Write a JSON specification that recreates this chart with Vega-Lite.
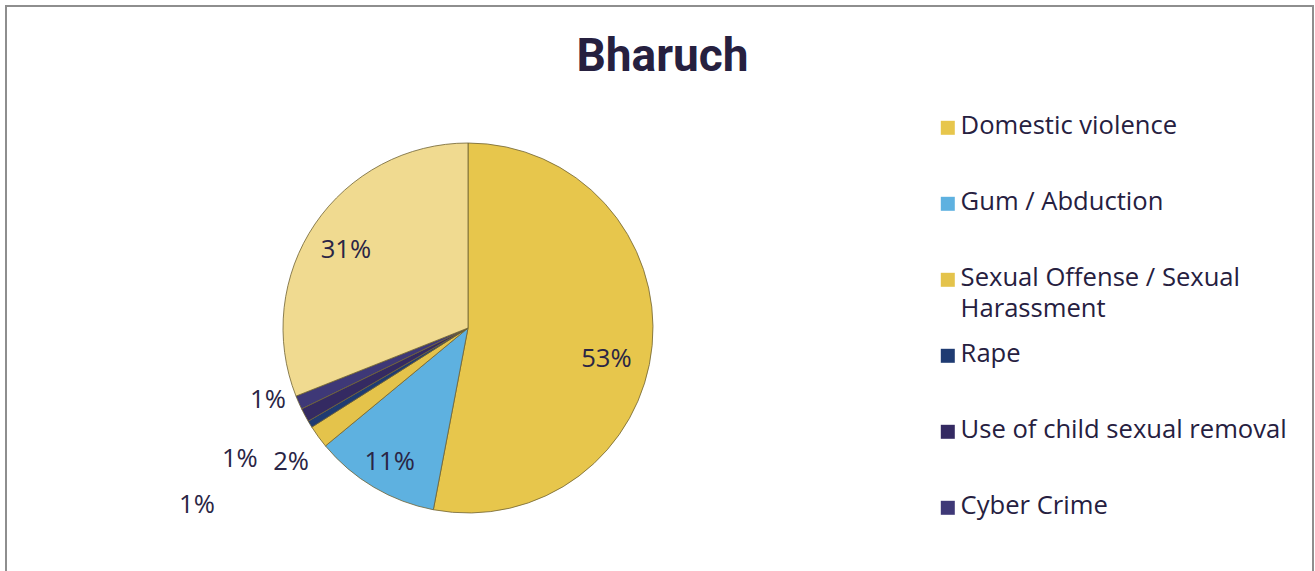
{
  "$schema": "https://vega.github.io/schema/vega-lite/v6.json",
  "autosize": "none",
  "padding": {"left": 6, "top": 6, "right": 2, "bottom": 0},
  "width": 1307,
  "height": 600,
  "background": "white",
  "config": {"view": {"stroke": null}},
  "title": {"text": "Bharuch", "fontSize": 46, "font": "Roboto", "fontWeight": "bold", "color": "#26203F", "anchor": "middle", "offset": -76, "dx": 3},
  "data": {"values": [
    {"idx": 1, "category": "Domestic violence", "share": 0.53},
    {"idx": 2, "category": "Gum / Abduction", "share": 0.11},
    {"idx": 3, "category": "Sexual Offense / Sexual Harassment", "share": 0.02},
    {"idx": 4, "category": "Rape", "share": 0.006},
    {"idx": 5, "category": "Use of child sexual removal", "share": 0.012},
    {"idx": 6, "category": "Cyber Crime", "share": 0.012},
    {"idx": 7, "category": "Others", "share": 0.31}
  ]},
  "layer": [
    {
      "data": {"values": [{"frame": 1}]},
      "mark": {"type": "rect", "x": 0, "y": 0, "x2": {"expr": "width"}, "y2": {"expr": "height"}, "fill": null, "stroke": "#8e8e8e", "strokeWidth": 2},
      "encoding": {}
    },
    {
      "mark": {"type": "arc", "x": 462, "y": 322, "outerRadius": 185, "stroke": "#6e6234", "strokeWidth": 0.8},
      "encoding": {
        "theta": {"field": "share", "type": "quantitative", "stack": true},
        "order": {"field": "idx", "type": "quantitative"},
        "color": {
          "field": "category", "type": "nominal",
          "scale": {
            "domain": ["Domestic violence", "Gum / Abduction", "Sexual Offense / Sexual Harassment", "Rape", "Use of child sexual removal", "Cyber Crime", "Others"],
            "range": ["#E7C64C", "#5EB1E0", "#E4C34B", "#1F3B72", "#342A62", "#3E3877", "#F0DA90"]
          },
          "legend": {
            "values": ["Domestic violence", "Gum / Abduction", "Sexual Offense / Sexual Harassment", "Rape", "Use of child sexual removal", "Cyber Crime"],
            "title": null,
            "orient": "none",
            "legendX": 929,
            "legendY": 109,
            "symbolType": "square",
            "symbolSize": 196,
            "symbolStrokeWidth": 0,
            "labelFont": "Open Sans",
            "labelFontSize": 25.6,
            "labelColor": "#26203F",
            "labelLimit": 400,
            "labelOffset": 0,
            "labelBaseline": "top",
            "rowPadding": 18,
            "labelExpr": "datum.label == 'Sexual Offense / Sexual Harassment' ? ['Sexual Offense / Sexual', 'Harassment'] : [datum.label, '']",
            "encoding": {"labels": {"lineHeight": {"value": 31}, "dy": {"value": -14}}}
          }
        }
      }
    },
    {
      "mark": {"type": "text", "x": 462, "y": 322, "radius": 141, "font": "Open Sans", "fontSize": 25.6, "color": "#2A2545", "dx": -2, "dy": 18},
      "encoding": {
        "theta": {"field": "share", "type": "quantitative", "stack": true},
        "order": {"field": "idx", "type": "quantitative"},
        "text": {"condition": {"test": "datum.idx == 1", "field": "share", "type": "quantitative", "format": ".0%"}, "value": ""}
      }
    },
    {
      "mark": {"type": "text", "x": 462, "y": 322, "radius": 150, "font": "Open Sans", "fontSize": 25.6, "color": "#2A2545", "dx": 2, "dy": 6},
      "encoding": {
        "theta": {"field": "share", "type": "quantitative", "stack": true},
        "order": {"field": "idx", "type": "quantitative"},
        "text": {"condition": {"test": "datum.idx == 7", "field": "share", "type": "quantitative", "format": ".0%"}, "value": ""}
      }
    },
    {
      "mark": {"type": "text", "x": 462, "y": 322, "radius": 150, "font": "Open Sans", "fontSize": 25.6, "color": "#2A2545", "dx": -2, "dy": 5},
      "encoding": {
        "theta": {"field": "share", "type": "quantitative", "stack": true},
        "order": {"field": "idx", "type": "quantitative"},
        "text": {"condition": {"test": "datum.idx == 2", "field": "share", "type": "quantitative", "format": ".0%"}, "value": ""}
      }
    },
    {
      "mark": {"type": "text", "x": 462, "y": 322, "radius": 220, "font": "Open Sans", "fontSize": 25.6, "color": "#2A2545", "dx": 1, "dy": 5},
      "encoding": {
        "theta": {"field": "share", "type": "quantitative", "stack": true},
        "order": {"field": "idx", "type": "quantitative"},
        "text": {"condition": {"test": "datum.idx == 3", "field": "share", "type": "quantitative", "format": ".0%"}, "value": ""}
      }
    },
    {
      "mark": {"type": "text", "x": 462, "y": 322, "radius": 322, "font": "Open Sans", "fontSize": 25.6, "color": "#2A2545", "dx": 4, "dy": 10},
      "encoding": {
        "theta": {"field": "share", "type": "quantitative", "stack": true},
        "order": {"field": "idx", "type": "quantitative"},
        "text": {"condition": {"test": "datum.idx == 4", "field": "share", "type": "quantitative", "format": ".0%"}, "value": ""}
      }
    },
    {
      "mark": {"type": "text", "x": 462, "y": 322, "radius": 262, "font": "Open Sans", "fontSize": 25.6, "color": "#2A2545", "dx": 3, "dy": 8},
      "encoding": {
        "theta": {"field": "share", "type": "quantitative", "stack": true},
        "order": {"field": "idx", "type": "quantitative"},
        "text": {"condition": {"test": "datum.idx == 5", "field": "share", "type": "quantitative", "format": ".0%"}, "value": ""}
      }
    },
    {
      "mark": {"type": "text", "x": 462, "y": 322, "radius": 212, "font": "Open Sans", "fontSize": 25.6, "color": "#2A2545", "dx": -6, "dy": -13},
      "encoding": {
        "theta": {"field": "share", "type": "quantitative", "stack": true},
        "order": {"field": "idx", "type": "quantitative"},
        "text": {"condition": {"test": "datum.idx == 6", "field": "share", "type": "quantitative", "format": ".0%"}, "value": ""}
      }
    }
  ]
}
